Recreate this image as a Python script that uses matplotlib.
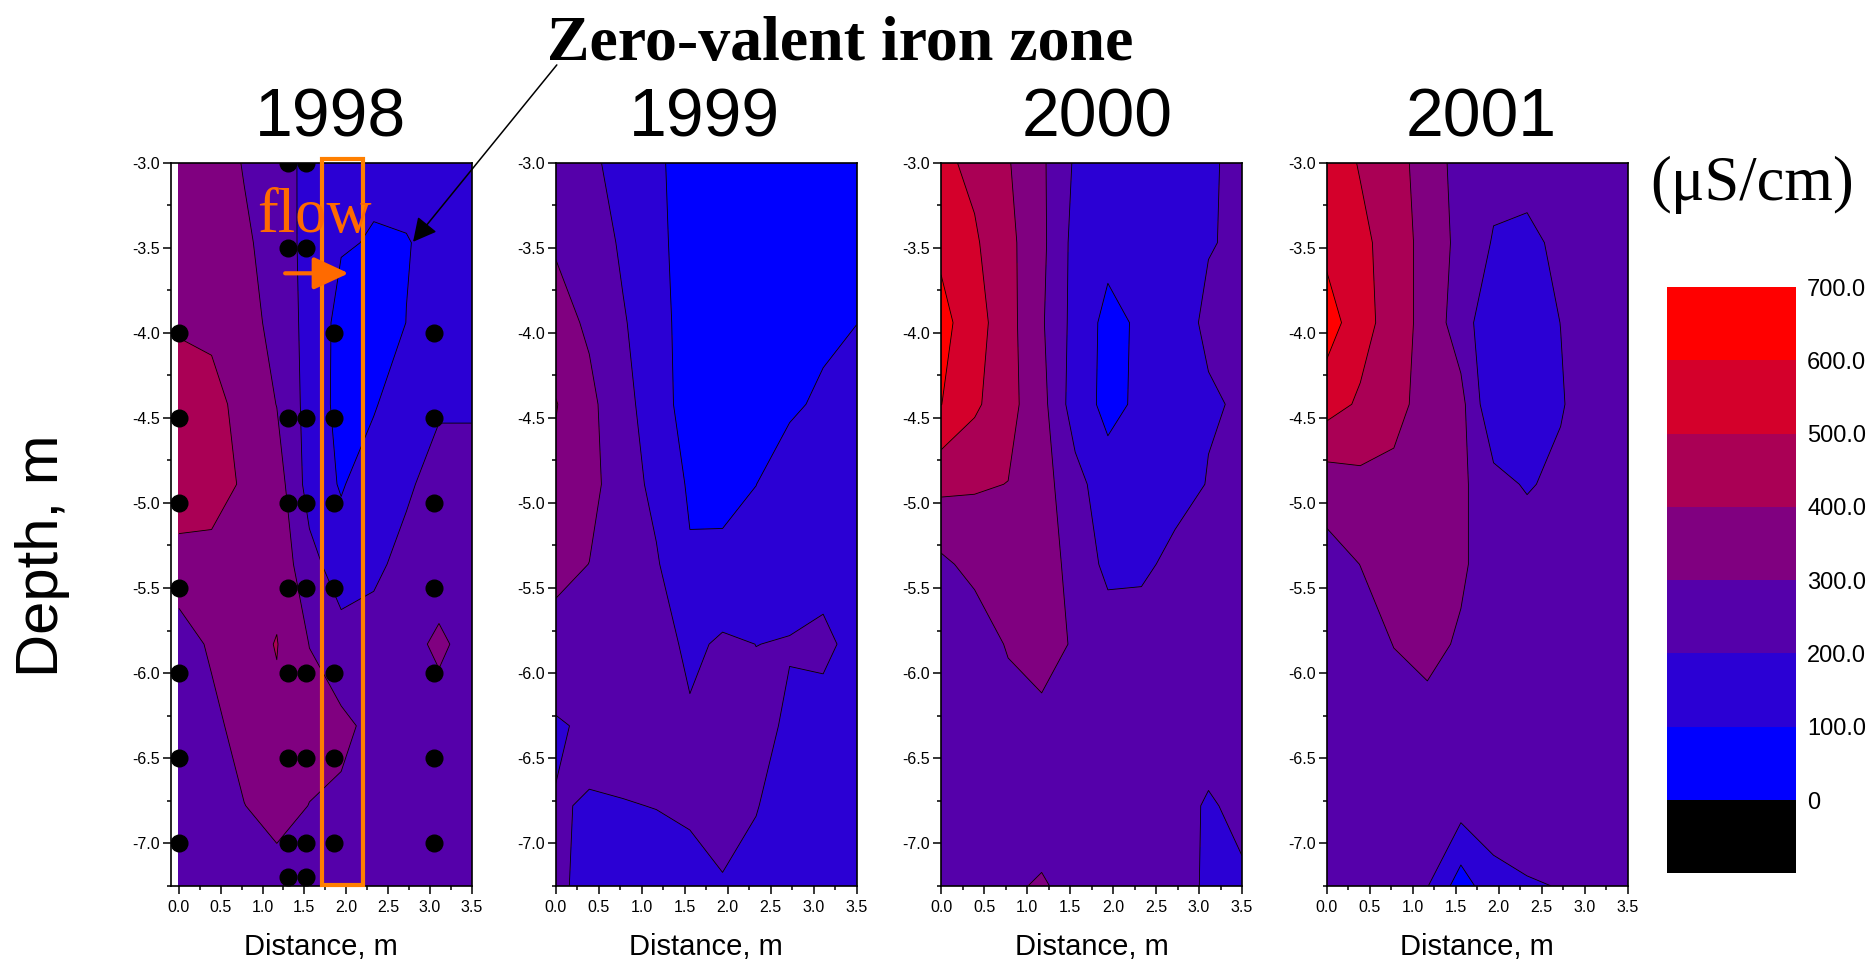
import numpy as np
import matplotlib
matplotlib.use('Agg')
import matplotlib.pyplot as plt
from matplotlib.colors import ListedColormap, BoundaryNorm
from matplotlib.cm import ScalarMappable
from matplotlib.patches import Rectangle
from matplotlib.ticker import MultipleLocator, FormatStrFormatter

plt.rcParams['font.family'] = ['Liberation Sans', 'DejaVu Sans']
plt.rcParams['axes.unicode_minus'] = False

# grid nodes of the gridded section (m)
dist = [0.0, 0.39, 0.78, 1.17, 1.56, 1.94, 2.33, 2.72, 3.11, 3.5]
depth = [-3.0, -3.47, -3.94, -4.42, -4.89, -5.36, -5.83, -6.31, -6.78, -7.25]

# specific conductance (uS/cm), one row per depth node
cond_1998 = [
    [350, 370, 292, 255, 166, 125, 114, 115, 140, 150],
    [370, 375, 320, 249, 170, 107, 95, 98, 111, 140],
    [385, 380, 340, 269, 166, 69, 70, 100.5, 130, 150],
    [465, 430, 369, 298, 162, 68, 90, 167, 188, 188],
    [450, 430, 391, 349, 160, 91, 157, 185, 239, 239],
    [369, 377, 380, 371, 232, 150, 180, 229, 257, 250],
    [244, 317, 367, 404, 298, 238, 239, 273, 315, 270],
    [240, 270, 345, 383, 340, 320, 277, 260, 265, 260],
    [240, 250, 298, 340, 298, 285, 270, 255, 260, 255],
    [240, 240, 250, 255, 260, 260, 260, 250, 250, 250],
]
cond_1999 = [
    [280, 240, 130, 115, 61, 50, 50, 55, 60, 70],
    [290, 265, 183, 130, 47, 45, 45, 50, 65, 80],
    [338, 285, 210, 133, 61, 45, 45, 60, 74, 99],
    [405, 324, 232, 148, 54, 55, 60, 80, 121, 140],
    [380, 330, 247, 174, 87, 74, 99, 167, 150, 150],
    [330, 299, 260, 210, 110, 121, 150, 175, 180, 170],
    [260, 250, 250, 240, 180, 214, 199.5, 203, 212, 183],
    [191, 213, 220, 225, 213, 225, 216, 192, 179, 175],
    [203.5, 196.6, 198, 201, 210, 215, 203, 170, 170, 170],
    [215, 178, 180, 180, 177, 197, 180, 165, 165, 165],
]
cond_2000 = [
    [522, 477, 407, 317, 187, 150, 160, 170, 190, 220],
    [580, 513, 427, 323, 167, 130, 150, 170, 196, 211],
    [630, 546, 434, 312, 165, 71, 116, 165, 215, 230],
    [602, 518, 433, 333, 148, 74, 118, 160, 190, 210],
    [423, 410, 398.5, 340, 235, 140, 140, 150, 206, 250],
    [280, 330, 360, 350, 265, 175, 170, 238, 250, 260],
    [260, 236, 310, 340, 289, 253, 277, 270, 260, 260],
    [250, 250, 251, 273, 260, 260, 265, 260, 238, 250],
    [250, 250, 260, 270, 260, 260, 260, 230, 191, 220],
    [250, 250, 291, 306, 280, 260, 250, 240, 185, 188],
]
cond_2001 = [
    [540, 495, 460, 330, 279, 230, 225, 240, 250, 260],
    [573, 517, 470, 351, 277, 192, 185, 214, 250, 260],
    [648, 539, 454, 362, 251, 120, 150, 201, 260, 260],
    [541, 486, 440, 353, 330, 110, 160, 190, 267, 260],
    [345, 374, 367, 350, 320, 233, 190, 226, 260, 260],
    [263, 301, 340, 345, 320, 233, 267, 260, 260, 260],
    [250, 260, 302, 336, 284, 260, 270, 265, 260, 260],
    [250, 250, 260, 256, 260, 260, 265, 260, 260, 260],
    [250, 250, 250, 250, 240, 252, 250, 255, 255, 255],
    [250, 250, 245, 205, 51, 168, 193, 203, 250, 250],
]
years = ['1998', '1999', '2000', '2001']
grids = [cond_1998, cond_1999, cond_2000, cond_2001]

levels = [-100, 0, 100, 200, 300, 400, 500, 600, 700]
band_colors = ['#000000', '#0000ff', '#2b00d4', '#5500aa',
               '#800080', '#aa0055', '#d4002b', '#ff0000']

# 1998 sampling points (distance, list of depths)
well_x = [0.0, 1.3, 1.52, 1.85, 3.05]
well_depths = [
    [-4.0, -4.5, -5.0, -5.5, -6.0, -6.5, -7.0],
    [-3.0, -3.5, -4.5, -5.0, -5.5, -6.0, -6.5, -7.0, -7.2],
    [-3.0, -3.5, -4.5, -5.0, -5.5, -6.0, -6.5, -7.0, -7.2],
    [-4.0, -4.5, -5.0, -5.5, -6.0, -6.5, -7.0],
    [-4.0, -4.5, -5.0, -5.5, -6.0, -6.5, -7.0],
]

fig = plt.figure(figsize=(18.75, 9.64), dpi=100)

lefts = [0.0910, 0.2964, 0.5019, 0.7076]
title_x = [330, 704, 1097, 1481]
axes = []
for i in range(4):
    ax = fig.add_axes([lefts[i], 0.0812, 0.1605, 0.75])
    Z = np.array(grids[i], dtype=float)
    ax.contourf(dist, depth, Z, levels=levels, colors=band_colors)
    ax.contour(dist, depth, Z, levels=levels[1:-1], colors='k', linewidths=0.6)
    ax.set_ylim(-7.25, -3.0)
    if i == 0:
        ax.set_xlim(-0.1, 3.5)
    else:
        ax.set_xlim(0.0, 3.5)
    ax.xaxis.set_major_locator(MultipleLocator(0.5))
    ax.xaxis.set_minor_locator(MultipleLocator(0.25))
    ax.yaxis.set_major_locator(MultipleLocator(0.5))
    ax.yaxis.set_minor_locator(MultipleLocator(0.25))
    ax.xaxis.set_major_formatter(FormatStrFormatter('%.1f'))
    ax.yaxis.set_major_formatter(FormatStrFormatter('%.1f'))
    ax.tick_params(which='major', direction='out', length=6, width=1.1, labelsize=11.5)
    ax.tick_params(which='minor', direction='out', length=3, width=1.1)
    ax.tick_params(axis='y', pad=2)
    ax.tick_params(axis='x', pad=4)
    for sp in ax.spines.values():
        sp.set_linewidth(1.2)
    ax.set_xlabel('Distance, m', fontsize=21, labelpad=13)
    fig.text(title_x[i] / 1875, 0.8589, years[i], ha='center', va='baseline', fontsize=49)
    axes.append(ax)

ax1 = axes[0]
for x, zs in zip(well_x, well_depths):
    ax1.plot([x] * len(zs), zs, 'o', color='k', ms=12, zorder=4)

# reactive barrier outline and flow direction
ax1.add_patch(Rectangle((1.713, -7.243), 0.49, 4.265, fill=False,
                        ec='#ff7f00', lw=3, clip_on=False, zorder=5))
ax1.text(0.94, -3.41, 'flow', ha='left', va='baseline', fontsize=45,
         family='Liberation Serif', color='#ff6a00', zorder=6, clip_on=False)
ax1.annotate('', xy=(2.03, -3.65), xytext=(1.27, -3.65),
             arrowprops=dict(arrowstyle='-|>,head_length=1.08,head_width=0.5',
                             mutation_scale=20, color='#ff6a00', lw=3,
                             shrinkA=0, shrinkB=0), zorder=6)
ax1.annotate('', xy=(2.80, -3.465), xytext=(4.52, -2.425),
             arrowprops=dict(arrowstyle='-|>,head_length=0.96,head_width=0.5',
                             mutation_scale=15, color='k', lw=1.1,
                             shrinkA=0, shrinkB=0),
             annotation_clip=False, zorder=6)

fig.text(840 / 1875, (964 - 60) / 964, 'Zero-valent iron zone', ha='center', va='baseline',
         fontsize=46, fontweight='bold', family='Liberation Serif')
fig.text(42 / 1875, 1 - 556 / 964, 'Depth, m', rotation=90, ha='center', va='center', fontsize=43)
fig.text(1752 / 1875, 1 - 185 / 964, '(\u03bcS/cm)', ha='center', va='center',
         fontsize=45, family='Liberation Serif')

# colour scale
cax = fig.add_axes([0.8891, 0.0941, 0.0688, 0.608])
cmap = ListedColormap(band_colors)
norm = BoundaryNorm(levels, cmap.N)
cb = fig.colorbar(ScalarMappable(norm=norm, cmap=cmap), cax=cax, ticks=levels[1:])
cb.outline.set_visible(False)
cb.ax.minorticks_off()
cb.ax.tick_params(length=0, labelsize=17, pad=8)
cb.set_ticklabels(['0'] + ['%.1f' % v for v in levels[2:]])

fig.savefig('out.png', dpi=100)
